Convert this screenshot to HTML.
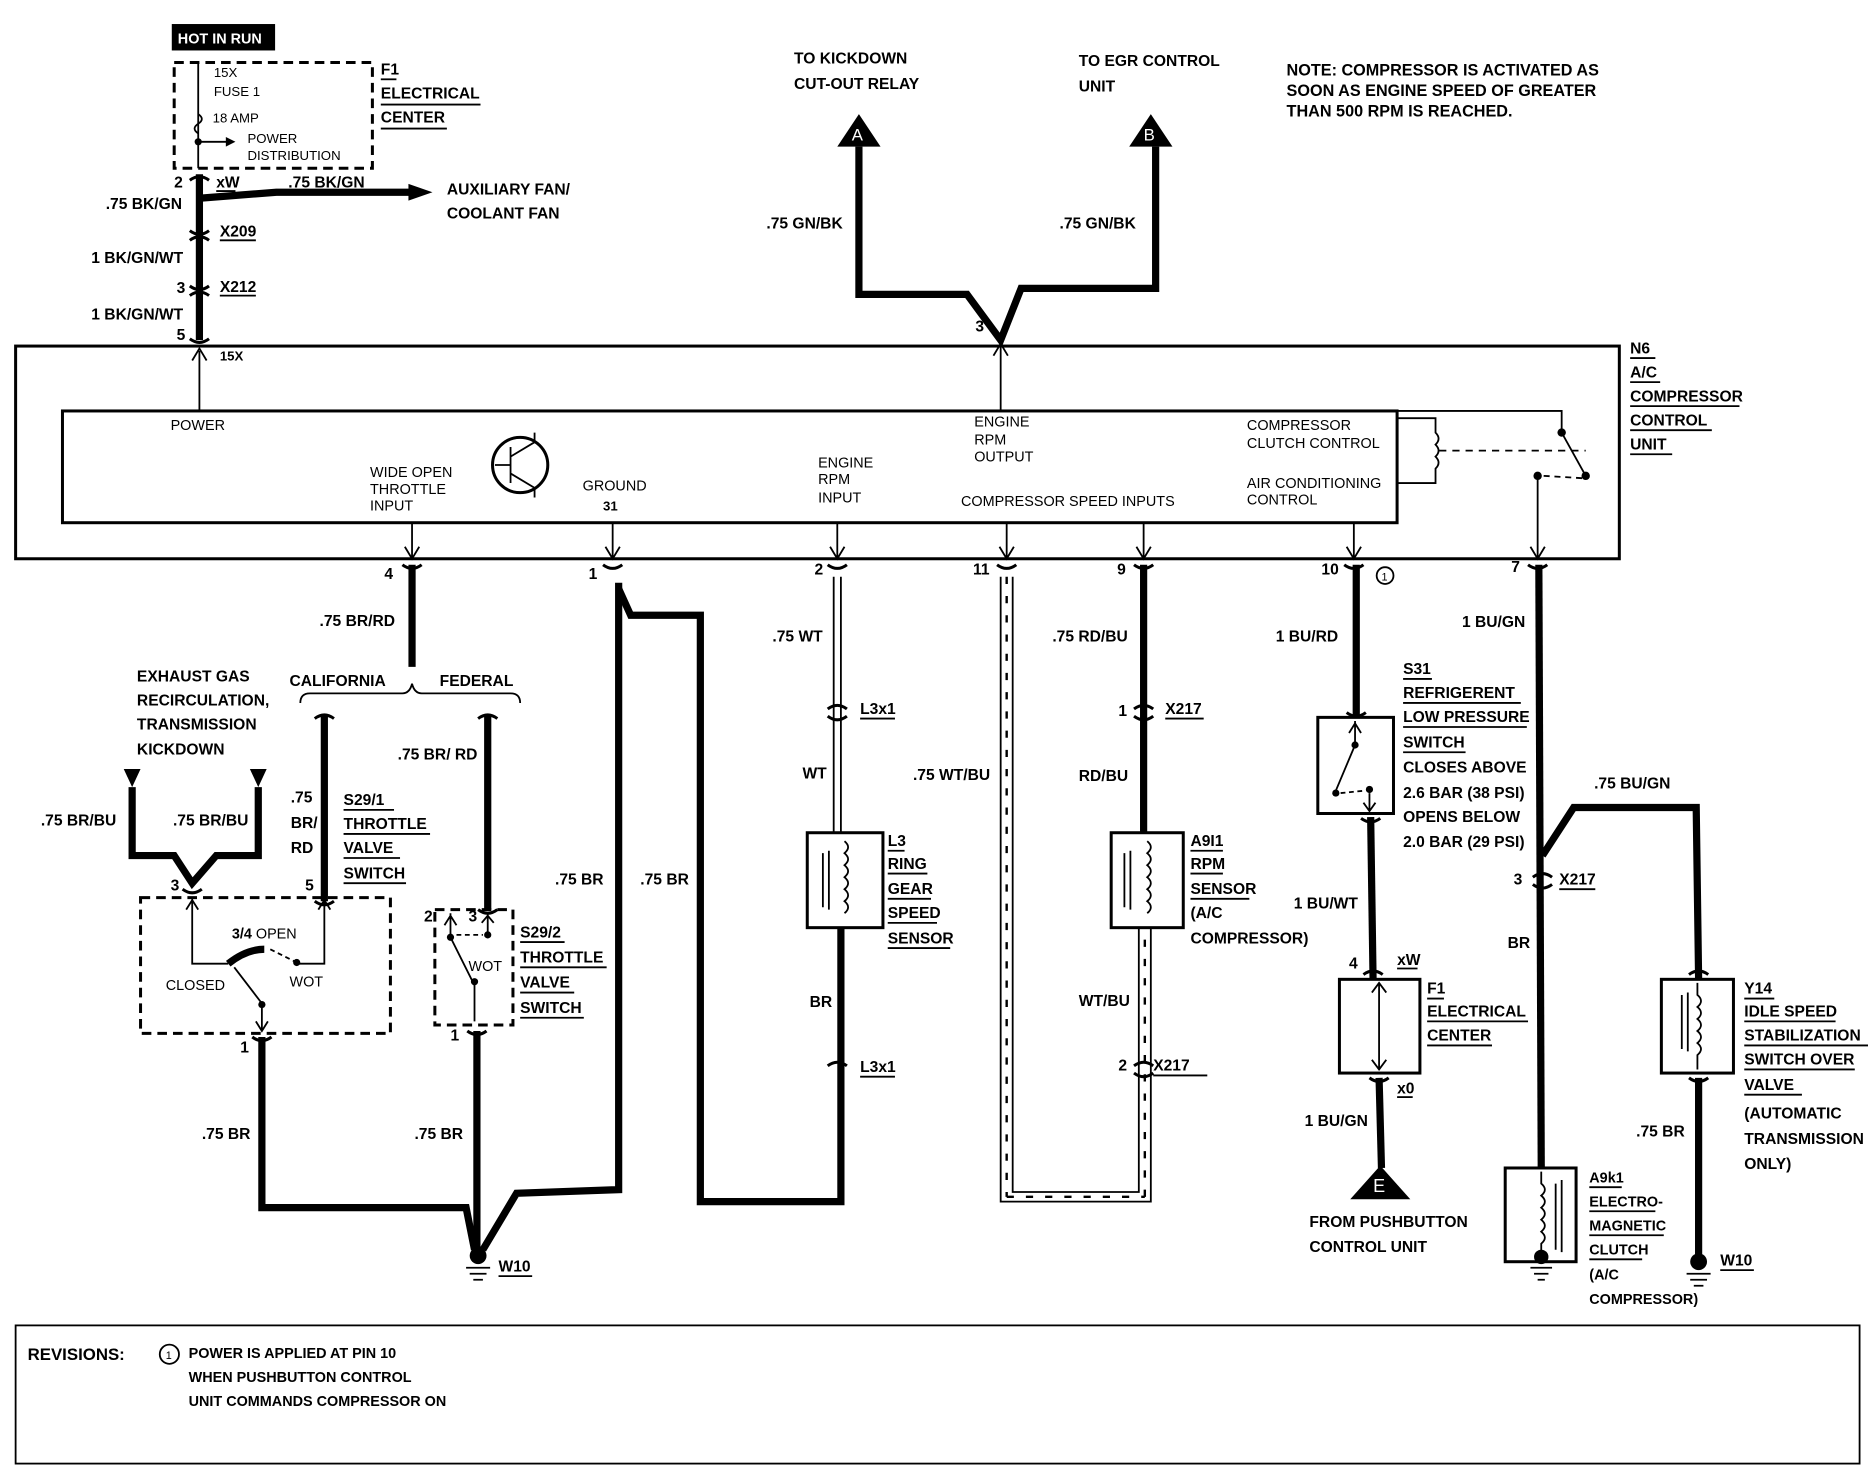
<!DOCTYPE html>
<html><head><meta charset="utf-8"><style>
html,body{margin:0;padding:0;background:#fff;}
svg{display:block;}
text{font-family:"Liberation Sans",sans-serif;fill:#000;}
.b{font-weight:bold;font-size:13px;}
.n{font-size:12px;}
.w{stroke:#000;stroke-width:6;fill:none;stroke-linejoin:miter;}
.t{stroke:#000;stroke-width:1.5;fill:none;}
.bx{stroke:#000;stroke-width:2.5;fill:none;}
.d{stroke:#000;stroke-width:2.5;fill:none;stroke-dasharray:8 5;}
.u{stroke:#000;stroke-width:1.5;}
.c{stroke:#000;stroke-width:2.5;fill:none;}
</style></head><body>
<svg width="1874" height="1472" viewBox="0 0 1560 1225" preserveAspectRatio="none" xmlns="http://www.w3.org/2000/svg">
<rect width="1560" height="1225" fill="#fff"/>
<rect x="143" y="20" width="86" height="22" fill="#000"/>
<text x="148" y="36" class="n" style="fill:#fff;font-weight:bold">HOT IN RUN</text>
<rect x="145" y="52" width="165" height="88" class="d"/>
<text x="178" y="64" class="n" style="font-size:11px">15X</text>
<text x="178" y="80" class="n" style="font-size:11px">FUSE 1</text>
<text x="177" y="102" class="n" style="font-size:11px">18 AMP</text>
<text x="206" y="119" class="n" style="font-size:11px">POWER</text>
<text x="206" y="133" class="n" style="font-size:11px">DISTRIBUTION</text>
<line x1="165" y1="52" x2="165" y2="140" class="t"/>
<path d="M165 95 q6 4 0 8 q-6 4 0 8" class="t"/>
<line x1="165" y1="118" x2="190" y2="118" class="t"/><path d="M188 114 L196 118 L188 122Z"/>
<circle cx="165" cy="118" r="3"/>
<text x="317" y="62" class="b">F1</text><line x1="317" y1="66" x2="330" y2="66" class="u"/>
<text x="317" y="82" class="b">ELECTRICAL</text><line x1="317" y1="87" x2="400" y2="87" class="u"/>
<text x="317" y="102" class="b">CENTER</text><line x1="317" y1="107" x2="372" y2="107" class="u"/>
<line x1="166" y1="145" x2="166" y2="283" class="w"/>
<path d="M158 150 q8 -6 16 0 M158 192 q8 6 16 0 M158 200 q8 -6 16 0 M158 238 q8 6 16 0 M158 246 q8 -6 16 0 M158 282 q8 6 16 0" class="c"/>
<path d="M166 165 L230 160 L345 160" class="w"/><path d="M340 153 L360 160 L340 167Z"/>
<text x="145" y="156" class="b">2</text><text x="180" y="156" class="b">xW</text><line x1="180" y1="159" x2="196" y2="159" class="u"/>
<text x="240" y="156" class="b">.75 BK/GN</text>
<text x="372" y="162" class="b">AUXILIARY FAN/</text><text x="372" y="182" class="b">COOLANT FAN</text>
<text x="88" y="174" class="b">.75 BK/GN</text>
<text x="183" y="197" class="b">X209</text><line x1="183" y1="200" x2="213" y2="200" class="u"/>
<text x="76" y="219" class="b">1 BK/GN/WT</text>
<text x="147" y="244" class="b">3</text><text x="183" y="243" class="b">X212</text><line x1="183" y1="246" x2="213" y2="246" class="u"/>
<text x="76" y="266" class="b">1 BK/GN/WT</text>
<text x="147" y="283" class="b">5</text><text x="183" y="300" class="b" style="font-size:11px">15X</text>
<line x1="166" y1="342" x2="166" y2="292" class="t"/><path d="M160 300 L166 290 L172 300" class="t"/>
<path d="M715 95 L697 122 L733 122Z"/><text x="709" y="117" style="fill:#fff;font-size:14px">A</text>
<path d="M958 95 L940 122 L976 122Z"/><text x="952" y="117" style="fill:#fff;font-size:14px">B</text>
<path d="M715 122 L715 245 L805 245 L833 283 L850 240 L962 240 L962 122" class="w"/>
<text x="661" y="53" class="b">TO KICKDOWN</text><text x="661" y="74" class="b">CUT-OUT RELAY</text>
<text x="898" y="55" class="b">TO EGR CONTROL</text><text x="898" y="76" class="b">UNIT</text>
<text x="638" y="190" class="b">.75 GN/BK</text><text x="882" y="190" class="b">.75 GN/BK</text>
<text x="812" y="276" class="b">3</text>
<line x1="833" y1="342" x2="833" y2="288" class="t"/><path d="M827 296 L833 286 L839 296" class="t"/>
<text x="1071" y="63" class="b" style="font-size:13.5px">NOTE: COMPRESSOR IS ACTIVATED AS</text>
<text x="1071" y="80" class="b" style="font-size:13.5px">SOON AS ENGINE SPEED OF GREATER</text>
<text x="1071" y="97" class="b" style="font-size:13.5px">THAN 500 RPM IS REACHED.</text>
<rect x="13" y="288" width="1335" height="177" class="bx"/>
<rect x="52" y="342" width="1111" height="93" class="bx"/>
<text x="1357" y="294" class="b">N6</text><line x1="1357" y1="298" x2="1378" y2="298" class="u"/>
<text x="1357" y="314" class="b">A/C</text><line x1="1357" y1="318" x2="1382" y2="318" class="u"/>
<text x="1357" y="334" class="b">COMPRESSOR</text><line x1="1357" y1="338" x2="1448" y2="338" class="u"/>
<text x="1357" y="354" class="b">CONTROL</text><line x1="1357" y1="358" x2="1425" y2="358" class="u"/>
<text x="1357" y="374" class="b">UNIT</text><line x1="1357" y1="378" x2="1392" y2="378" class="u"/>
<text x="142" y="358" class="n">POWER</text>
<text x="308" y="397" class="n">WIDE OPEN</text><text x="308" y="411" class="n">THROTTLE</text><text x="308" y="425" class="n">INPUT</text>
<circle cx="433" cy="387" r="23" class="bx"/>
<path d="M425 372 L425 402 M412 387 L425 387 M425 380 L445 368 M425 394 L445 406 M445 368 L445 360 M445 406 L445 414" class="t"/>
<text x="485" y="408" class="n">GROUND</text><text x="502" y="425" class="b" style="font-size:11px">31</text>
<text x="681" y="389" class="n">ENGINE</text><text x="681" y="403" class="n">RPM</text><text x="681" y="418" class="n">INPUT</text>
<text x="811" y="355" class="n">ENGINE</text><text x="811" y="370" class="n">RPM</text><text x="811" y="384" class="n">OUTPUT</text>
<text x="800" y="421" class="n">COMPRESSOR SPEED INPUTS</text>
<text x="1038" y="358" class="n">COMPRESSOR</text><text x="1038" y="373" class="n">CLUTCH CONTROL</text>
<text x="1038" y="406" class="n">AIR CONDITIONING</text><text x="1038" y="420" class="n">CONTROL</text>
<path d="M1163 348 L1195 348 L1195 360 q5 5 0 10 q5 5 0 10 q5 5 0 10 L1195 402 L1163 402" class="t"/>
<line x1="1198" y1="375" x2="1320" y2="375" class="t" stroke-dasharray="6 5"/>
<path d="M1163 342 L1300 342 L1300 358" class="t"/><circle cx="1300" cy="360" r="3.5"/>
<line x1="1300" y1="360" x2="1320" y2="396" class="t"/><circle cx="1320" cy="396" r="3.5"/>
<line x1="1285" y1="396" x2="1318" y2="398" class="t" stroke-dasharray="5 4"/><circle cx="1280" cy="396" r="3.5"/>
<line x1="1280" y1="396" x2="1280" y2="465" class="t"/>
<g class="t">
<path d="M343 435 L343 465 M337 455 L343 465 L349 455"/>
<path d="M510 435 L510 465 M504 455 L510 465 L516 455"/>
<path d="M697 435 L697 465 M691 455 L697 465 L703 455"/>
<path d="M838 435 L838 465 M832 455 L838 465 L844 455"/>
<path d="M952 435 L952 465 M946 455 L952 465 L958 455"/>
<path d="M1127 435 L1127 465 M1121 455 L1127 465 L1133 455"/>
<path d="M1274 455 L1280 465 L1286 455"/>
</g>
<g class="b">
<text x="320" y="482">4</text><text x="490" y="482">1</text><text x="678" y="478">2</text><text x="810" y="478">11</text>
<text x="930" y="478">9</text><text x="1100" y="478">10</text><text x="1258" y="476">7</text>
</g>
<circle cx="1153" cy="479" r="7" class="t"/><text x="1150" y="483" style="font-size:9px">1</text>
<g class="c">
<path d="M335 470 q8 6 16 0 M502 470 q8 6 16 0 M689 470 q8 6 16 0 M830 470 q8 6 16 0 M944 470 q8 6 16 0 M1119 470 q8 6 16 0 M1272 470 q8 6 16 0"/>
<path d="M689 590 q8 -6 16 0 M689 596 q8 6 16 0 M944 590 q8 -6 16 0 M944 596 q8 6 16 0 M689 887 q8 -6 16 0 M944 887 q8 -6 16 0 M944 893 q8 6 16 0"/>
<path d="M1276 730 q8 -6 16 0 M1276 736 q8 6 16 0 M1135 811 q8 -6 16 0 M1140 897 q8 6 16 0 M1406 811 q8 -6 16 0 M1406 897 q8 6 16 0"/>
<path d="M262 598 q8 -6 16 0 M398 598 q8 -6 16 0 M152 740 q8 6 16 0 M262 750 q8 6 16 0 M398 757 q8 6 16 0 M210 863 q8 6 16 0 M389 858 q8 6 16 0 M1121 593 q8 6 16 0 M1133 681 q8 6 16 0"/>
</g>
<line x1="343" y1="470" x2="343" y2="555" class="w"/>
<text x="266" y="521" class="b">.75 BR/RD</text>
<path d="M250 585 q0 -8 8 -8 L335 577 q6 0 8 -8 q2 8 8 8 L425 577 q8 0 8 8" class="t" stroke-width="2"/>
<text x="241" y="571" class="b">CALIFORNIA</text><text x="366" y="571" class="b">FEDERAL</text>
<line x1="270" y1="595" x2="270" y2="750" class="w"/>
<line x1="406" y1="595" x2="406" y2="757" class="w"/>
<text x="331" y="632" class="b">.75 BR/ RD</text>
<text x="242" y="668" class="b">.75</text><text x="242" y="689" class="b">BR/</text><text x="242" y="710" class="b">RD</text>
<text x="286" y="670" class="b">S29/1</text><line x1="286" y1="674" x2="328" y2="674" class="u"/>
<text x="286" y="690" class="b">THROTTLE</text><line x1="286" y1="694" x2="358" y2="694" class="u"/>
<text x="286" y="710" class="b">VALVE</text><line x1="286" y1="714" x2="333" y2="714" class="u"/>
<text x="286" y="731" class="b">SWITCH</text><line x1="286" y1="735" x2="338" y2="735" class="u"/>
<text x="114" y="567" class="b">EXHAUST GAS</text><text x="114" y="587" class="b">RECIRCULATION,</text>
<text x="114" y="607" class="b">TRANSMISSION</text><text x="114" y="628" class="b">KICKDOWN</text>
<path d="M103 640 L117 640 L110 655Z"/><path d="M208 640 L222 640 L215 655Z"/>
<path d="M110 655 L110 712 L145 712 L160 735 L180 712 L215 712 L215 655" class="w"/>
<text x="34" y="687" class="b">.75 BR/BU</text><text x="144" y="687" class="b">.75 BR/BU</text>
<rect x="117" y="747" width="208" height="113" class="d"/>
<text x="142" y="741" class="b">3</text><text x="254" y="741" class="b">5</text>
<path d="M160 747 L160 802 L190 802 M270 747 L270 802 L245 802 M155 757 L160 749 L165 757 M265 757 L270 749 L275 757" class="t"/>
<path d="M190 802 q15 -12 30 -12" class="w" stroke-width="5"/>
<line x1="225" y1="790" x2="245" y2="800" class="t" stroke-dasharray="4 3"/><circle cx="247" cy="801" r="3"/>
<line x1="195" y1="805" x2="218" y2="835" class="t"/><circle cx="218" cy="836" r="3"/>
<path d="M218 836 L218 858 M213 850 L218 858 L223 850" class="t"/>
<text x="193" y="781" class="n" style="font-weight:bold">3/4 <tspan font-weight="normal">OPEN</tspan></text>
<text x="138" y="824" class="n">CLOSED</text><text x="241" y="821" class="n">WOT</text>
<text x="200" y="876" class="b">1</text>
<rect x="362" y="757" width="65" height="96" class="d"/>
<text x="353" y="767" class="b">2</text><text x="390" y="767" class="b">3</text>
<path d="M375 760 L375 780 L395 820 L395 850 M370 770 L375 762 L380 770 M406 760 L406 776 M401 768 L406 762 L411 768" class="t"/>
<circle cx="375" cy="780" r="3"/><circle cx="406" cy="778" r="3"/><circle cx="395" cy="817" r="3"/>
<line x1="380" y1="778" x2="402" y2="778" class="t" stroke-dasharray="4 3"/>
<text x="390" y="808" class="n">WOT</text>
<text x="433" y="780" class="b">S29/2</text><line x1="433" y1="784" x2="470" y2="784" class="u"/>
<text x="433" y="801" class="b">THROTTLE</text><line x1="433" y1="805" x2="505" y2="805" class="u"/>
<text x="433" y="822" class="b">VALVE</text><line x1="433" y1="826" x2="478" y2="826" class="u"/>
<text x="433" y="843" class="b">SWITCH</text><line x1="433" y1="847" x2="486" y2="847" class="u"/>
<text x="375" y="866" class="b">1</text>
<path d="M218 863 L218 1005 L388 1005 L395 1040" class="w"/>
<line x1="397" y1="858" x2="397" y2="1040" class="w"/>
<path d="M515 485 L515 990 L430 993 L402 1040" class="w"/>
<text x="168" y="948" class="b">.75 BR</text><text x="345" y="948" class="b">.75 BR</text>
<text x="462" y="736" class="b">.75 BR</text><text x="533" y="736" class="b">.75 BR</text>
<circle cx="398" cy="1045" r="7"/>
<path d="M388 1055 L408 1055 M391 1060 L405 1060 M394 1065 L402 1065" class="t"/>
<text x="415" y="1058" class="b">W10</text><line x1="415" y1="1062" x2="443" y2="1062" class="u"/>
<path d="M515 490 L525 512 L583 512 L583 1000 L700 1000 L700 890" class="w"/>
<path d="M694 480 L694 693 M700 480 L700 693" class="t" stroke-width="1.3"/>
<text x="643" y="534" class="b">.75 WT</text>
<text x="716" y="594" class="b">L3x1</text><line x1="716" y1="598" x2="745" y2="598" class="u"/>
<text x="668" y="648" class="b">WT</text>
<rect x="672" y="693" width="63" height="79" class="bx"/>
<path d="M685 710 L685 755 M690 708 L690 757 M703 700 q6 5 0 10 q6 5 0 10 q6 5 0 10 q6 5 0 10 q6 5 0 10 q6 5 0 10" class="t"/>
<text x="739" y="704" class="b">L3</text><line x1="739" y1="708" x2="753" y2="708" class="u"/>
<text x="739" y="723" class="b">RING</text><line x1="739" y1="727" x2="772" y2="727" class="u"/>
<text x="739" y="744" class="b">GEAR</text><line x1="739" y1="748" x2="775" y2="748" class="u"/>
<text x="739" y="764" class="b">SPEED</text><line x1="739" y1="768" x2="780" y2="768" class="u"/>
<text x="739" y="785" class="b">SENSOR</text><line x1="739" y1="789" x2="791" y2="789" class="u"/>
<line x1="700" y1="772" x2="700" y2="890" class="w"/>
<text x="674" y="838" class="b">BR</text>
<text x="716" y="892" class="b">L3x1</text><line x1="716" y1="896" x2="745" y2="896" class="u"/>
<path d="M833 480 L833 1000 L958 1000 L958 772 M843 480 L843 992 L948 992 L948 772" class="t" stroke-width="1.5"/>
<line x1="838" y1="480" x2="838" y2="996" stroke="#000" stroke-width="2" stroke-dasharray="6 10"/>
<line x1="838" y1="996" x2="953" y2="996" stroke="#000" stroke-width="2" stroke-dasharray="6 10"/>
<line x1="953" y1="996" x2="953" y2="772" stroke="#000" stroke-width="2" stroke-dasharray="6 10"/>
<text x="760" y="649" class="b">.75 WT/BU</text>
<line x1="952" y1="470" x2="952" y2="693" class="w"/>
<text x="876" y="534" class="b">.75 RD/BU</text>
<text x="931" y="596" class="b">1</text><text x="970" y="594" class="b">X217</text><line x1="970" y1="598" x2="1002" y2="598" class="u"/>
<text x="898" y="650" class="b">RD/BU</text>
<rect x="925" y="693" width="60" height="79" class="bx"/>
<path d="M936 710 L936 755 M941 708 L941 757 M955 700 q6 5 0 10 q6 5 0 10 q6 5 0 10 q6 5 0 10 q6 5 0 10 q6 5 0 10" class="t"/>
<text x="991" y="704" class="b">A9I1</text><line x1="991" y1="708" x2="1018" y2="708" class="u"/>
<text x="991" y="723" class="b">RPM</text><line x1="991" y1="727" x2="1018" y2="727" class="u"/>
<text x="991" y="744" class="b">SENSOR</text><line x1="991" y1="748" x2="1040" y2="748" class="u"/>
<text x="991" y="764" class="b">(A/C</text><text x="991" y="785" class="b">COMPRESSOR)</text>
<text x="898" y="837" class="b">WT/BU</text>
<text x="931" y="891" class="b">2</text><text x="960" y="891" class="b">X217</text><line x1="960" y1="895" x2="1005" y2="895" class="u"/>
<line x1="1129" y1="470" x2="1129" y2="597" class="w"/>
<text x="1062" y="534" class="b">1 BU/RD</text>
<rect x="1097" y="597" width="63" height="80" class="bx"/>
<path d="M1128 600 L1128 620 L1112 658 M1123 610 L1128 602 L1133 610 M1140 660 L1140 675 M1135 668 L1140 675 L1145 668" class="t"/>
<circle cx="1128" cy="620" r="3"/><circle cx="1112" cy="660" r="3"/><circle cx="1140" cy="657" r="3"/>
<line x1="1116" y1="660" x2="1136" y2="658" class="t" stroke-dasharray="4 3"/>
<text x="1168" y="561" class="b">S31</text><line x1="1168" y1="565" x2="1192" y2="565" class="u"/>
<text x="1168" y="581" class="b">REFRIGERENT</text><line x1="1168" y1="585" x2="1266" y2="585" class="u"/>
<text x="1168" y="601" class="b">LOW PRESSURE</text><line x1="1168" y1="605" x2="1271" y2="605" class="u"/>
<text x="1168" y="622" class="b">SWITCH</text><line x1="1168" y1="626" x2="1220" y2="626" class="u"/>
<text x="1168" y="643" class="b">CLOSES ABOVE</text><text x="1168" y="664" class="b">2.6 BAR (38 PSI)</text>
<text x="1168" y="684" class="b">OPENS BELOW</text><text x="1168" y="705" class="b">2.0 BAR (29 PSI)</text>
<line x1="1141" y1="680" x2="1143" y2="815" class="w"/>
<text x="1077" y="756" class="b">1 BU/WT</text>
<text x="1123" y="806" class="b">4</text><text x="1163" y="803" class="b">xW</text><line x1="1163" y1="806" x2="1180" y2="806" class="u"/>
<rect x="1115" y="815" width="67" height="78" class="bx"/>
<path d="M1148 818 L1148 890 M1142 826 L1148 818 L1154 826 M1142 882 L1148 890 L1154 882" class="t"/>
<text x="1188" y="827" class="b">F1</text><line x1="1188" y1="831" x2="1202" y2="831" class="u"/>
<text x="1188" y="846" class="b">ELECTRICAL</text><line x1="1188" y1="850" x2="1272" y2="850" class="u"/>
<text x="1188" y="866" class="b">CENTER</text><line x1="1188" y1="870" x2="1242" y2="870" class="u"/>
<line x1="1148" y1="897" x2="1150" y2="972" class="w"/>
<text x="1163" y="910" class="b">x0</text><line x1="1163" y1="913" x2="1176" y2="913" class="u"/>
<text x="1086" y="937" class="b">1 BU/GN</text>
<path d="M1149 970 L1124 998 L1174 998Z"/><text x="1143" y="992" style="fill:#fff;font-size:15px">E</text>
<text x="1090" y="1021" class="b">FROM PUSHBUTTON</text><text x="1090" y="1042" class="b">CONTROL UNIT</text>
<line x1="1281" y1="470" x2="1283" y2="972" class="w"/>
<path d="M1284 712 L1310 672 L1412 672 L1414 815" class="w"/>
<text x="1217" y="522" class="b">1 BU/GN</text><text x="1327" y="656" class="b">.75 BU/GN</text>
<text x="1260" y="736" class="b">3</text><text x="1298" y="736" class="b">X217</text><line x1="1298" y1="740" x2="1328" y2="740" class="u"/>
<text x="1255" y="789" class="b">BR</text>
<rect x="1253" y="972" width="59" height="78" class="bx"/>
<path d="M1283 975 L1283 985 q6 5 0 10 q6 5 0 10 q6 5 0 10 q6 5 0 10 q6 5 0 10 L1283 1045 M1295 985 L1295 1040 M1300 982 L1300 1042" class="t"/>
<circle cx="1283" cy="1046" r="6"/>
<path d="M1274 1055 L1292 1055 M1277 1060 L1289 1060 M1280 1065 L1286 1065" class="t"/>
<text x="1323" y="984" class="b" style="font-size:12px">A9k1</text><line x1="1323" y1="988" x2="1350" y2="988" class="u"/>
<text x="1323" y="1004" class="b" style="font-size:12px">ELECTRO-</text><line x1="1323" y1="1008" x2="1378" y2="1008" class="u"/>
<text x="1323" y="1024" class="b" style="font-size:12px">MAGNETIC</text><line x1="1323" y1="1028" x2="1385" y2="1028" class="u"/>
<text x="1323" y="1044" class="b" style="font-size:12px">CLUTCH</text><line x1="1323" y1="1048" x2="1367" y2="1048" class="u"/>
<text x="1323" y="1065" class="b" style="font-size:12px">(A/C</text><text x="1323" y="1085" class="b" style="font-size:12px">COMPRESSOR)</text>
<rect x="1383" y="815" width="60" height="78" class="bx"/>
<path d="M1413 818 L1413 828 q6 5 0 10 q6 5 0 10 q6 5 0 10 q6 5 0 10 q6 5 0 10 L1413 890 M1400 828 L1400 873 M1405 826 L1405 875" class="t"/>
<text x="1452" y="827" class="b">Y14</text><line x1="1452" y1="831" x2="1477" y2="831" class="u"/>
<text x="1452" y="846" class="b">IDLE SPEED</text><line x1="1452" y1="850" x2="1528" y2="850" class="u"/>
<text x="1452" y="866" class="b">STABILIZATION</text><line x1="1452" y1="870" x2="1555" y2="870" class="u"/>
<text x="1452" y="886" class="b">SWITCH OVER</text><line x1="1452" y1="890" x2="1544" y2="890" class="u"/>
<text x="1452" y="907" class="b">VALVE</text><line x1="1452" y1="911" x2="1500" y2="911" class="u"/>
<text x="1452" y="931" class="b">(AUTOMATIC</text><text x="1452" y="952" class="b">TRANSMISSION</text><text x="1452" y="973" class="b">ONLY)</text>
<line x1="1414" y1="897" x2="1414" y2="1045" class="w"/>
<text x="1362" y="946" class="b">.75 BR</text>
<circle cx="1414" cy="1050" r="7"/>
<path d="M1404 1060 L1424 1060 M1407 1065 L1421 1065 M1410 1070 L1418 1070" class="t"/>
<text x="1432" y="1053" class="b">W10</text><line x1="1432" y1="1057" x2="1460" y2="1057" class="u"/>
<rect x="13" y="1103" width="1535" height="115" class="t"/>
<text x="23" y="1132" class="b" style="font-size:14px">REVISIONS:</text>
<circle cx="141" cy="1127" r="8" class="t"/><text x="138" y="1131" style="font-size:9px">1</text>
<text x="157" y="1130" class="b" style="font-size:12px">POWER IS APPLIED AT PIN 10</text>
<text x="157" y="1150" class="b" style="font-size:12px">WHEN PUSHBUTTON CONTROL</text>
<text x="157" y="1170" class="b" style="font-size:12px">UNIT COMMANDS COMPRESSOR ON</text>
</svg>
</body></html>
